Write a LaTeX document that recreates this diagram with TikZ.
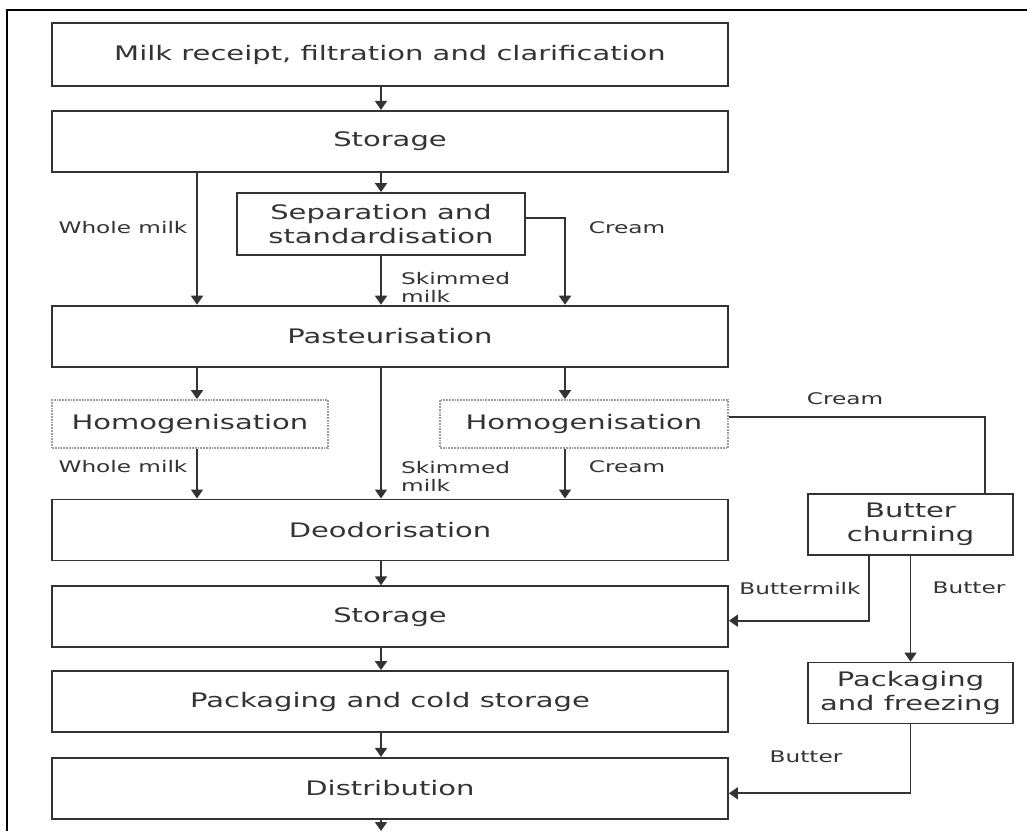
\documentclass[tikz,border=0pt]{standalone}
\usepackage{fontspec}
\setmainfont{DejaVu Sans}[FakeStretch=1.45]
\usetikzlibrary{positioning,arrows.meta}
\definecolor{ink}{HTML}{333333}

\begin{document}
\begin{tikzpicture}[x=1pt,y=-1pt,>={Triangle[width=12pt,length=9pt]},
  box/.style={draw=ink,line width=1.8pt,text=ink,minimum width=676pt,minimum height=61pt,inner sep=0pt,align=center,font=\fontsize{20}{24}\selectfont},
  sidebox/.style={box,minimum width=205pt},
  homog/.style={box,draw=gray!75,densely dotted,minimum height=48pt},
  flow/.style={->,draw=ink,line width=1.8pt},
  link/.style={draw=ink,line width=1.8pt},
  tag/.style={text=ink,inner sep=0pt,align=left,font=\fontsize{16}{18}\selectfont}]
\useasboundingbox (0,0) rectangle (1027,831);
% frame of the figure
\draw[line width=2.2pt] (7,831) -- (7,10) -- (1027,10);

% main line
\node[box,minimum height=63pt] (recv) at (390,54.5) {Milk receipt, filtration and clarification};
\node[box,below=23pt of recv] (store) {Storage};
\node[box,below=132pt of store] (past) {Pasteurisation};
\node[box,below=131pt of past] (deod) {Deodorisation};
\node[box,below=24pt of deod] (store2) {Storage};
\node[box,below=22pt of store2] (pack) {Packaging and cold storage};
\node[box,below=24pt of pack] (dist) {Distribution};

% side steps
\node[box,minimum width=288pt,minimum height=62pt] (sep) at (381,224) {Separation and\\standardisation};
\node[homog,minimum width=276pt] (homL) at (190,424) {Homogenisation};
\node[homog,minimum width=288pt] (homR) at (584,424) {Homogenisation};
\node[sidebox] (churn) at (910.5,524.5) {Butter\\churning};
\node[sidebox] (freeze) at (910.5,693) {Packaging\\and freezing};

\coordinate (wm) at (197,0);
\coordinate (cr) at (565,0);
\coordinate (crR) at (985,0);
\coordinate (bm) at (869,0);
\coordinate (out) at (381,831);

\draw[flow] (recv.south -| sep) -- (store.north -| sep);
\draw[flow] (store.south -| sep) -- (sep.north);
\draw[flow] (store.south -| wm) -- (past.north -| wm);
\draw[flow] (sep.south) -- (past.north -| sep);
\draw[flow] ([yshift=6pt]sep.east) -| (past.north -| cr);
\draw[flow] (past.south -| wm) -- (homL.north -| wm);
\draw[flow] (past.south -| sep) -- (deod.north -| sep);
\draw[flow] (past.south -| cr) -- (homR.north -| cr);
\draw[flow] (homL.south -| wm) -- (deod.north -| wm);
\draw[flow] (homR.south -| cr) -- (deod.north -| cr);
\draw[flow] (deod.south -| sep) -- (store2.north -| sep);
\draw[flow] (store2.south -| sep) -- (pack.north -| sep);
\draw[flow] (pack.south -| sep) -- (dist.north -| sep);
\draw[flow] (dist.south -| sep) -- (out);
\draw[link] ([yshift=7pt]homR.east) -| (churn.north -| crR);
\draw[flow] (churn.south -| bm) |- ([yshift=-4pt]store2.east);
\draw[flow] (churn.south) -- (freeze.north);
\draw[flow] (freeze.south) |- ([yshift=-5pt]dist.east);

% stream labels
\node[tag] (wm1) at (123,228) {Whole milk};
\node[tag,anchor=west] (sk1) at (401,287) {Skimmed\\milk};
\node[tag] (cr1) at (627,228) {Cream};
\node[tag] (wm2) at (123,467) {Whole milk};
\node[tag,anchor=west] (sk2) at (401,476) {Skimmed\\milk};
\node[tag] (cr2) at (627,467) {Cream};
\node[tag] (cr3) at (845,399) {Cream};
\node[tag] (bmk) at (800,589) {Buttermilk};
\node[tag] (bt1) at (969,588) {Butter};
\node[tag] (bt2) at (806,757) {Butter};
\end{tikzpicture}
\end{document}
